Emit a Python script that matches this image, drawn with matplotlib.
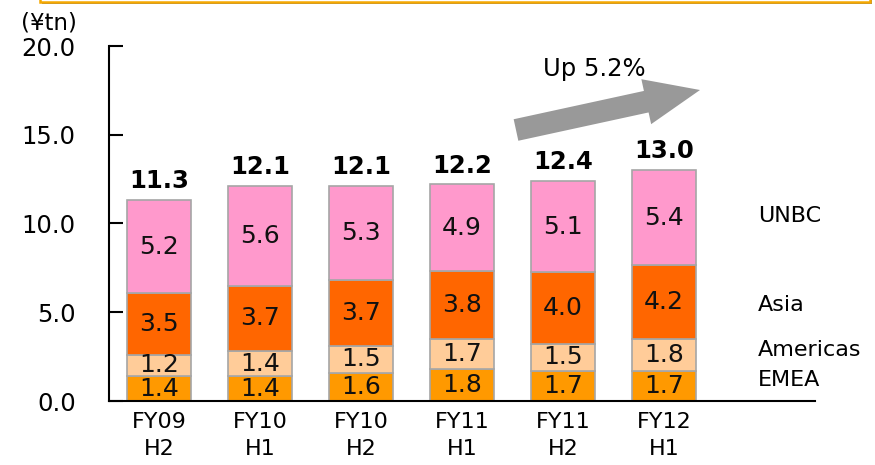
import matplotlib.pyplot as plt
import matplotlib.patches as mpatches
import numpy as np

# data (¥tn)
periods = ['FY09\nH2', 'FY10\nH1', 'FY10\nH2', 'FY11\nH1', 'FY11\nH2', 'FY12\nH1']
emea = [1.4, 1.4, 1.6, 1.8, 1.7, 1.7]
americas = [1.2, 1.4, 1.5, 1.7, 1.5, 1.8]
asia = [3.5, 3.7, 3.7, 3.8, 4.0, 4.2]
unbc = [5.2, 5.6, 5.3, 4.9, 5.1, 5.4]
totals = [11.3, 12.1, 12.1, 12.2, 12.4, 13.0]

regions = ['EMEA', 'Americas', 'Asia', 'UNBC']
colors = ['#FF9900', '#FFCC99', '#FF6600', '#FF99CC']
series = [emea, americas, asia, unbc]

plt.rcParams['font.family'] = ['DejaVu Sans']

fig = plt.figure(figsize=(8.75, 4.65), dpi=100)
ax = fig.add_axes([109 / 875, 64 / 465, 706 / 875, 355 / 465])

x = np.arange(len(periods))
vals = np.array(series)
# segment labels are rounded, so scale the stack to the shown total
scale = np.array(totals) / vals.sum(axis=0)
heights = vals * scale

bottom = np.zeros(len(periods))
for name, col, h, v in zip(regions, colors, heights, vals):
    ax.bar(x, h, 0.64, bottom=bottom, color=col, edgecolor='#A6A6A6', linewidth=1.2, zorder=2)
    for xi, b, hi, vi in zip(x, bottom, h, v):
        ax.text(xi, b + hi / 2, f'{vi:.1f}', ha='center', va='center',
                fontsize=18, color='#111111', clip_on=True, zorder=3)
    bottom = bottom + h

for xi, t in zip(x, totals):
    ax.annotate(f'{t:.1f}', (xi, t), xytext=(0, 5), textcoords='offset points',
                ha='center', va='bottom', fontsize=17.5, fontweight='bold')

# region labels to the right of the last bar
label_y = [1.18, 2.87, 5.41, 10.42]
for name, ly in zip(regions, label_y):
    ax.text(5.93, ly, name, ha='left', va='center', fontsize=16)

ax.set_xlim(-0.495, 6.495)
ax.set_ylim(0, 20)
ax.set_yticks([0, 5, 10, 15, 20])
ax.set_yticklabels([f'{v:.1f}' for v in [0, 5, 10, 15, 20]], fontsize=17.5)
ax.set_xticks(x)
ax.set_xticklabels(periods, fontsize=16, linespacing=1.4)
ax.tick_params(axis='y', direction='in', length=10, width=1.5, pad=24)
ax.tick_params(axis='x', length=0, pad=8)
ax.spines['top'].set_visible(False)
ax.spines['right'].set_visible(False)
ax.spines['left'].set_linewidth(1.5)
ax.spines['bottom'].set_linewidth(1.5)
ax.spines['left'].set_zorder(4)
ax.spines['bottom'].set_zorder(4)

fig.text(21 / 875, 1 - 23 / 465, '(¥tn)', ha='left', va='center', fontsize=16.5)

# growth arrow
arrow = mpatches.FancyArrow(5.16, 3.35, 1.84, 0.40, width=0.22, head_width=0.46,
                            head_length=0.55, length_includes_head=True,
                            color='#999999', linewidth=0,
                            transform=fig.dpi_scale_trans)
fig.patches.append(arrow)
fig.text(543 / 875, 1 - 69 / 465, 'Up 5.2%', ha='left', va='center', fontsize=17.5)

# edge of the header box above the chart
shadow = mpatches.Rectangle((0.42, 4.61), 8.30, 0.3, facecolor='#7F7F7F',
                            edgecolor='none', transform=fig.dpi_scale_trans)
box = mpatches.Rectangle((0.40, 4.635), 8.30, 0.3, facecolor='white',
                         edgecolor='#F5A800', linewidth=1.8,
                         transform=fig.dpi_scale_trans)
fig.patches.append(shadow)
fig.patches.append(box)

plt.savefig('out.png', dpi=100)
